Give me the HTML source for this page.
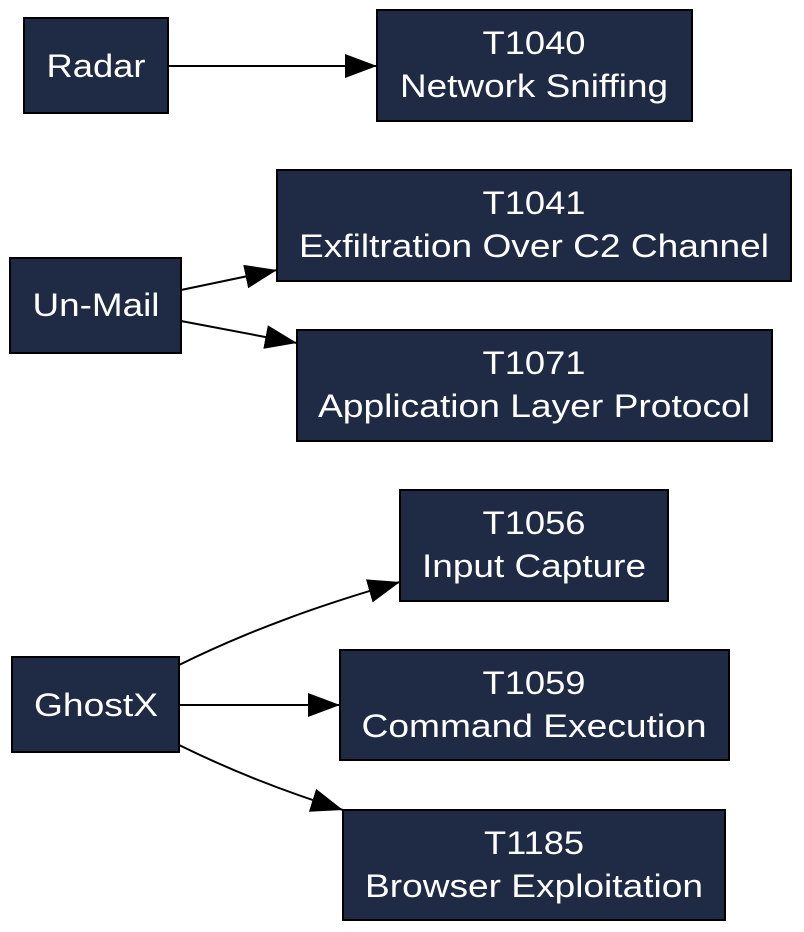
<!DOCTYPE html>
<html><head><meta charset="utf-8"><style>
html,body{margin:0;padding:0;background:#fff;}
svg{display:block;}
text{font-family:"Liberation Sans",Arial,sans-serif;font-size:32px;fill:#fff;text-anchor:middle;}
rect{fill:#1f2a44;stroke:#000;stroke-width:2;}
path.e{fill:none;stroke:#000;stroke-width:2;}
</style></head><body>
<svg width="804" height="932" viewBox="0 0 804 932" xmlns="http://www.w3.org/2000/svg">
<defs>
<marker id="ah" viewBox="0 0 32 24" refX="32" refY="12" markerWidth="32" markerHeight="24" markerUnits="userSpaceOnUse" orient="auto"><path d="M0,0 L32,12 L0,24 Z" fill="#000"/></marker></defs>

<path class="e" d="M168,66 L377,66" marker-end="url(#ah)"/>
<path class="e" d="M181,290 L277,270" marker-end="url(#ah)"/>
<path class="e" d="M181,321 L297,343" marker-end="url(#ah)"/>
<path class="e" d="M179,665 C250,630 320,605 400,582" marker-end="url(#ah)"/>
<path class="e" d="M179,705 L340,705" marker-end="url(#ah)"/>
<path class="e" d="M179,745 C230,770 280,790 343,810" marker-end="url(#ah)"/>

<g lengthAdjust="spacingAndGlyphs">
<rect x="24" y="18" width="144" height="95"/><text x="96" y="77" textLength="99" lengthAdjust="spacingAndGlyphs">Radar</text>
<rect x="377" y="10" width="315" height="111"/><text x="534" y="54" textLength="103" lengthAdjust="spacingAndGlyphs">T1040</text><text x="534" y="97" textLength="268" lengthAdjust="spacingAndGlyphs">Network Sniffing</text>
<rect x="277" y="170" width="514" height="111"/><text x="534" y="214" textLength="103" lengthAdjust="spacingAndGlyphs">T1041</text><text x="534" y="257" textLength="470" lengthAdjust="spacingAndGlyphs">Exfiltration Over C2 Channel</text>
<rect x="10" y="258" width="171" height="95"/><text x="96" y="316" textLength="127" lengthAdjust="spacingAndGlyphs">Un-Mail</text>
<rect x="297" y="330" width="475" height="111"/><text x="534" y="374" textLength="103" lengthAdjust="spacingAndGlyphs">T1071</text><text x="534" y="417" textLength="432" lengthAdjust="spacingAndGlyphs">Application Layer Protocol</text>
<rect x="400" y="490" width="268" height="111"/><text x="534" y="534" textLength="103" lengthAdjust="spacingAndGlyphs">T1056</text><text x="534" y="577" textLength="224" lengthAdjust="spacingAndGlyphs">Input Capture</text>
<rect x="12" y="657" width="167" height="95"/><text x="96" y="716" textLength="124" lengthAdjust="spacingAndGlyphs">GhostX</text>
<rect x="340" y="650" width="389" height="110"/><text x="534" y="694" textLength="103" lengthAdjust="spacingAndGlyphs">T1059</text><text x="534" y="737" textLength="345" lengthAdjust="spacingAndGlyphs">Command Execution</text>
<rect x="343" y="810" width="382" height="110"/><text x="534" y="854" textLength="100" lengthAdjust="spacingAndGlyphs">T1185</text><text x="534" y="897" textLength="338" lengthAdjust="spacingAndGlyphs">Browser Exploitation</text>
</g>
</svg>
</body></html>
